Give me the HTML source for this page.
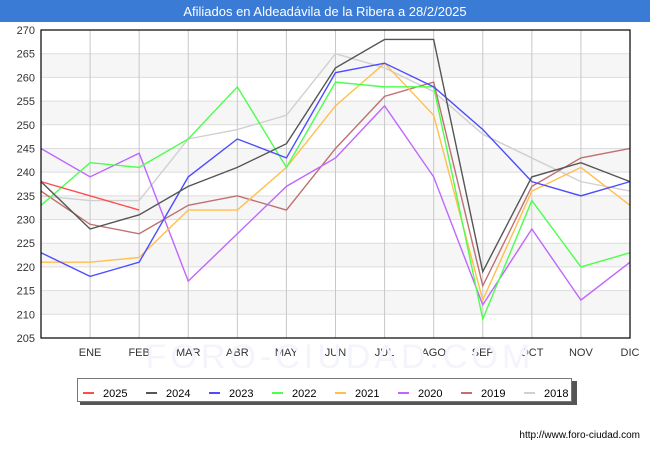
<!DOCTYPE html>
<html><head><meta charset="utf-8"><style>
body{margin:0;background:#fff;font-family:"Liberation Sans","DejaVu Sans",sans-serif;}
#wrap{position:relative;width:650px;height:450px;overflow:hidden;}
</style></head><body>
<div id="wrap">
<svg id="chart" width="650" height="450" style="position:absolute;left:0;top:0"></svg>
</div>
<script>
const months = ["", "ENE", "FEB", "MAR", "ABR", "MAY", "JUN", "JUL", "AGO", "SEP", "OCT", "NOV", "DIC"];
const yTicks = [205,210,215,220,225,230,235,240,245,250,255,260,265,270];
const seriesNames = ["2025","2024","2023","2022","2021","2020","2019","2018"];
const seriesColors = ["#ff4d4d","#555555","#4d4dff","#4dff4d","#ffbf4d","#bf66ff","#bf7070","#d0d0d0"];
const v2025 = [238,235,232];
const v2024 = [238,228,231,237,241,246,262,268,268,219,239,242,238];
const v2023 = [223,218,221,239,247,243,261,263,258,249,238,235,238];
const v2022 = [233,242,241,247,258,241,259,258,258,209,234,220,223];
const v2021 = [221,221,222,232,232,241,254,263,252,213,236,241,233];
const v2020 = [245,239,244,217,227,237,243,254,239,212,228,213,221];
const v2019 = [236,229,227,233,235,232,245,256,259,216,237,243,245];
const v2018 = [235,234,234,247,249,252,265,262,257,248,243,238,236];
const seriesValues = [v2025,v2024,v2023,v2022,v2021,v2020,v2019,v2018];

const NS="http://www.w3.org/2000/svg";
const svg=document.getElementById('chart');
const L=41,R=630,T=30,B=338,yMin=205,yMax=270;
const xS=i=>L+(R-L)*i/(months.length-1);
const yS=v=>B-(v-yMin)/(yMax-yMin)*(B-T);
function mk(tag,attrs,parent){const e=document.createElementNS(NS,tag);for(const k in attrs)e.setAttribute(k,attrs[k]);(parent||svg).appendChild(e);return e;}

const tb=mk('rect',{x:0,y:0,width:650,height:22,fill:'#3a7bd5'});


const tt=mk('text',{x:325,y:16,'text-anchor':'middle','font-size':13,fill:'#fff'});
tt.textContent='Afiliados en Aldeadávila de la Ribera a 28/2/2025';



for(let i=0;i<yTicks.length-1;i++){
  if(i%2===1){
    const b=mk('rect',{x:L,y:yS(yTicks[i+1]),width:R-L,height:yS(yTicks[i])-yS(yTicks[i+1]),fill:'#f6f6f6'});
    
    
  }
}
yTicks.forEach(t=>{
  const g=mk('line',{x1:L,x2:R,y1:yS(t),y2:yS(t),stroke:'#dddddd','stroke-width':1});
  
  
  const lb=mk('text',{x:L-6,y:yS(t)+4,'text-anchor':'end','font-size':11,fill:'#333'});
  lb.textContent=t;
  
  
});
months.forEach((m,i)=>{
  if(i>0){
    const g=mk('line',{x1:xS(i),x2:xS(i),y1:T,y2:B,stroke:'#c8c8c8','stroke-width':1});
    
    
  }
  const lb=mk('text',{x:xS(i),y:356,'text-anchor':'middle','font-size':11,fill:'#333'});
  lb.textContent=m;
  
  
});
const wm=mk('text',{x:340,y:368,'text-anchor':'middle','font-size':34,fill:'#f3f4fc','letter-spacing':4});
wm.textContent='FORO-CIUDAD.COM';



for(let s=seriesValues.length-1;s>=0;s--){
  const pts=seriesValues[s].map((v,i)=>xS(i)+','+yS(v)).join(' ');
  const p=mk('polyline',{points:pts,fill:'none',stroke:seriesColors[s],'stroke-width':1.4});
  
  
}
const fr=mk('rect',{x:L,y:T,width:R-L,height:B-T,fill:'none',stroke:'#000','stroke-width':1.2});



const ls=mk('rect',{x:80,y:381,width:497,height:24,fill:'#555'});


const lbx=mk('rect',{x:77.5,y:378.5,width:494,height:23,fill:'#fff',stroke:'#777','stroke-width':1});


seriesNames.forEach((n,i)=>{
  const x0=83+i*63;
  const sw=mk('line',{x1:x0,x2:x0+11,y1:393,y2:393,stroke:seriesColors[i],'stroke-width':2});
  
  
  const t=mk('text',{x:x0+20,y:397,'font-size':11,fill:'#000'});
  t.textContent=n;
  
  
});
const u=mk('text',{x:640,y:438,'text-anchor':'end','font-size':10,fill:'#000'});
u.textContent='http://www.foro-ciudad.com';


</script>
</body></html>
